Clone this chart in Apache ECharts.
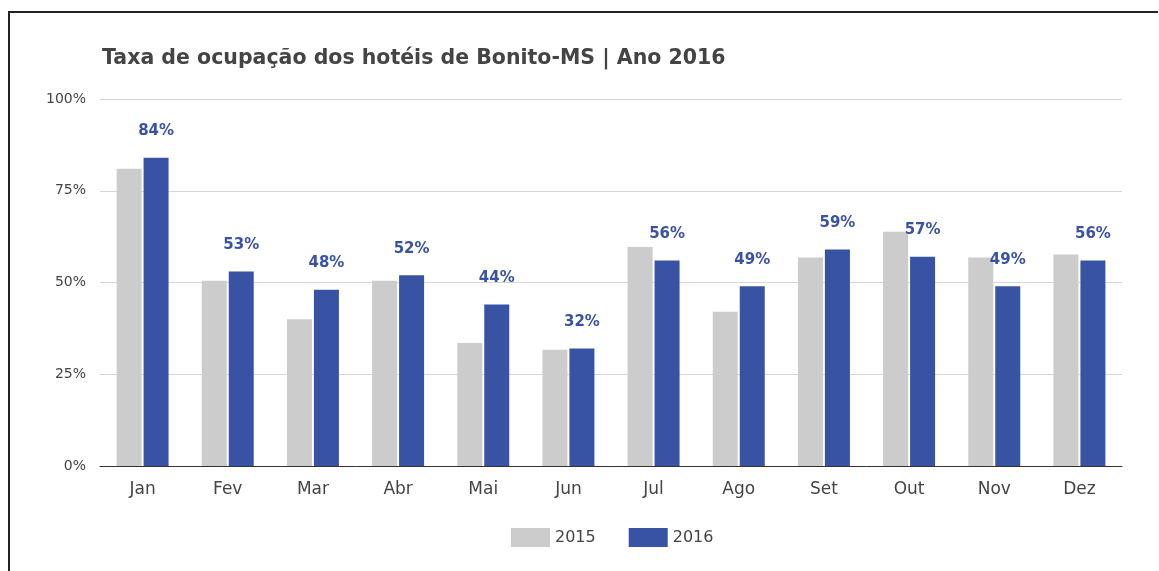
<!DOCTYPE html>
<html>
<head>
<meta charset="utf-8">
<script src="https://cdn.jsdelivr.net/npm/echarts@6/dist/echarts.min.js"></script>
<style>
  html, body { margin: 0; padding: 0; background: #fff; }
  #frame { position: absolute; left: 8px; top: 11px; width: 1148px; height: 570px;
           border-left: 2px solid #222; border-top: 2px solid #222; }
  #chart { width: 1159px; height: 571px; }
</style>
</head>
<body>
<div id="frame"></div>
<div id="chart"></div>
<script>
// Taxa de ocupação — Bonito-MS
const months = ["Jan", "Fev", "Mar", "Abr", "Mai", "Jun", "Jul", "Ago", "Set", "Out", "Nov", "Dez"];
const occ2015 = [81, 50.5, 40, 50.5, 33.5, 31.7, 59.7, 42, 56.8, 63.8, 56.8, 57.6];
const occ2016 = [84, 53, 48, 52, 44, 32, 56, 49, 59, 57, 49, 56];
const yTicks = [0, 25, 50, 75, 100];

const chart = echarts.init(document.getElementById("chart"), null, { renderer: "canvas" });
const font = "DejaVu Sans, Verdana, sans-serif";

chart.setOption({
  backgroundColor: "transparent",
  animation: false,
  textStyle: { fontFamily: font },
  title: {
    text: "Taxa de ocupação dos hotéis de Bonito-MS | Ano 2016",
    left: 97, top: 43,
    textStyle: { fontFamily: font, fontSize: 20.5, fontWeight: "bold", color: "#444" },
  },
  legend: {
    bottom: 19, left: 506,
    icon: "rect",
    itemWidth: 39, itemHeight: 19, itemGap: 33,
    textStyle: { fontFamily: font, fontSize: 16, color: "#444" },
    data: ["2015", "2016"],
  },
  grid: { left: 100, right: 37, top: 99, bottom: 105 },
  xAxis: {
    type: "category",
    data: months,
    axisLine: { lineStyle: { color: "#333", width: 1 } },
    axisTick: { show: false },
    axisLabel: { fontFamily: font, fontSize: 17, color: "#444", margin: 15 },
  },
  yAxis: {
    type: "value",
    min: yTicks[0], max: yTicks[yTicks.length - 1], interval: 25,
    axisLine: { show: false },
    axisTick: { show: false },
    splitLine: { lineStyle: { color: "#d6d6d6", width: 1 } },
    axisLabel: { fontFamily: font, fontSize: 14, color: "#444", margin: 14, formatter: "{value}%" },
  },
  series: [
    {
      name: "2015", type: "bar", data: occ2015,
      barWidth: 25, barGap: "8%",
      itemStyle: { color: "#cccccc" },
    },
    {
      name: "2016", type: "bar", data: occ2016,
      barWidth: 25,
      itemStyle: { color: "#3853a4" },
      label: {
        show: true, position: "top", distance: 19,
        formatter: "{c}%",
        fontFamily: font, fontSize: 15, fontWeight: "bold", color: "#3a52a6",
      },
    },
  ],
});
</script>
</body>
</html>
